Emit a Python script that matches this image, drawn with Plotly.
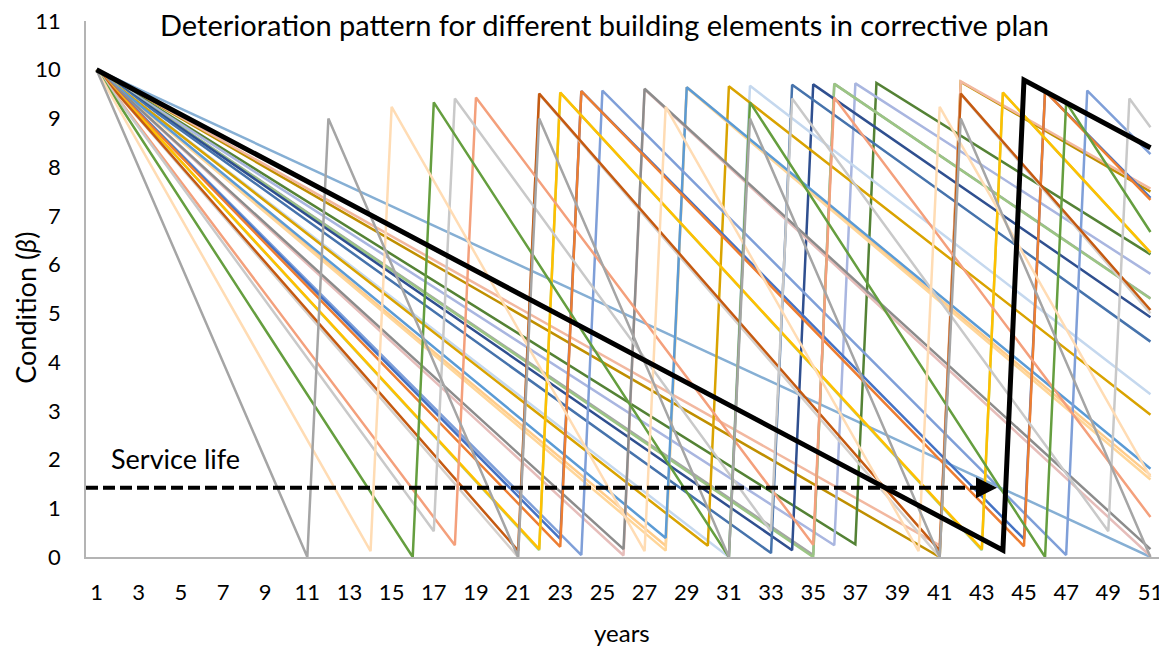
import plotly.graph_objects as go

# ---------------- data (vertices) ----------------
tick_years = list(range(1, 52, 2))
y_ticks = list(range(0, 12))

service_life_level = 1.42
service_life_end = 43.72

s01_x = [1, 11, 12, 21, 22, 31, 32, 41, 42, 51]
s01_y = [10, 0, 9, 0, 9, 0, 9, 0, 9, 0]
s02_x = [1, 14, 15, 27, 28, 40, 41, 51]
s02_y = [10, 0.12, 9.24, 0.12, 9.24, 0.12, 9.24, 1.64]
s03_x = [1, 16, 17, 31, 32, 46, 47, 51]
s03_y = [10, 0, 9.33, 0, 9.33, 0, 9.33, 6.67]
s04_x = [1, 17, 18, 33, 34, 49, 50, 51]
s04_y = [10, 0.53, 9.41, 0.53, 9.41, 0.53, 9.41, 8.82]
s05_x = [1, 18, 19, 35, 36, 51]
s05_y = [10, 0.24, 9.43, 0.25, 9.43, 0.82]
s06_x = [1, 21, 22, 41, 42, 51]
s06_y = [10, 0.13, 9.51, 0.13, 9.51, 5.07]
s07_x = [1, 21, 22, 41, 42, 51]
s07_y = [10, 0, 9.5, 0, 9.5, 5.0]
s08_x = [1, 22, 23, 43, 44, 51]
s08_y = [10, 0.16, 9.53, 0.16, 9.53, 6.25]
s09_x = [1, 22, 23, 43, 44, 51]
s09_y = [10, 0.14, 9.53, 0.14, 9.53, 6.24]
s10_x = [1, 23, 24, 45, 46, 51]
s10_y = [10, 0.21, 9.56, 0.22, 9.56, 7.33]
s11_x = [1, 23, 24, 45, 46, 51]
s11_y = [10, 0.37, 9.56, 0.37, 9.56, 7.37]
s12_x = [1, 24, 25, 47, 48, 51]
s12_y = [10, 0.04, 9.57, 0.04, 9.57, 8.27]
s13_x = [1, 26, 27, 51]
s13_y = [10, 0.16, 9.61, 0.16]
s14_x = [1, 26, 27, 51]
s14_y = [10, 0.03, 9.6, 0.02]
s15_x = [1, 28, 29, 51]
s15_y = [10, 0.39, 9.64, 1.81]
s16_x = [1, 28, 29, 51]
s16_y = [10, 0.13, 9.63, 1.59]
s17_x = [1, 28, 29, 51]
s17_y = [10, 0.23, 9.64, 1.68]
s18_x = [1, 30, 31, 51]
s18_y = [10, 0.23, 9.66, 2.92]
s19_x = [1, 31, 32, 51]
s19_y = [10, 0, 9.67, 3.34]
s20_x = [1, 33, 34, 51]
s20_y = [10, 0.08, 9.69, 4.42]
s21_x = [1, 34, 35, 51]
s21_y = [10, 0.14, 9.70, 4.92]
s22_x = [1, 35, 36, 51]
s22_y = [10, 0, 9.71, 5.30]
s23_x = [1, 35, 36, 51]
s23_y = [10, 0.04, 9.71, 5.31]
s24_x = [1, 36, 37, 51]
s24_y = [10, 0.24, 9.72, 5.81]
s25_x = [1, 37, 38, 51]
s25_y = [10, 0.26, 9.73, 6.21]
s26_x = [1, 41, 42, 51]
s26_y = [10, 0.24, 9.76, 7.56]
s27_x = [1, 41, 42, 51]
s27_y = [10, 0, 9.75, 7.5]
s28_x = [1, 51]
s28_y = [10, 0]
s29_x = [1, 44, 45, 51]
s29_y = [10, 0.14, 9.79, 8.4]

series = [
    ("s28", "#86AFD4", 2.5, s28_x, s28_y),
    ("s27", "#BF8F00", 2.5, s27_x, s27_y),
    ("s26", "#F2B8A0", 2.5, s26_x, s26_y),
    ("s25", "#548235", 2.5, s25_x, s25_y),
    ("s24", "#A9B6E0", 2.5, s24_x, s24_y),
    ("s23", "#A5A5A5", 2.5, s23_x, s23_y),
    ("s22", "#9BC584", 2.5, s22_x, s22_y),
    ("s21", "#2F4F8F", 2.5, s21_x, s21_y),
    ("s20", "#4673AC", 2.5, s20_x, s20_y),
    ("s19", "#C5D8EE", 2.5, s19_x, s19_y),
    ("s18", "#D9A300", 2.5, s18_x, s18_y),
    ("s17", "#FFCC8A", 2.5, s17_x, s17_y),
    ("s16", "#FFD699", 2.5, s16_x, s16_y),
    ("s15", "#5B9BD5", 2.5, s15_x, s15_y),
    ("s14", "#E6BDBA", 2.5, s14_x, s14_y),
    ("s13", "#8C8C8C", 2.5, s13_x, s13_y),
    ("s12", "#7F9FD8", 2.5, s12_x, s12_y),
    ("s11", "#4472C4", 2.5, s11_x, s11_y),
    ("s10", "#ED7D31", 2.5, s10_x, s10_y),
    ("s09", "#A9D18E", 2.5, s09_x, s09_y),
    ("s08", "#FFC000", 2.5, s08_x, s08_y),
    ("s07", "#D5D0CC", 2.5, s07_x, s07_y),
    ("s06", "#C55A11", 2.5, s06_x, s06_y),
    ("s05", "#F4A07C", 2.5, s05_x, s05_y),
    ("s04", "#C9C9C9", 2.5, s04_x, s04_y),
    ("s03", "#659E3F", 2.5, s03_x, s03_y),
    ("s02", "#FFDCB4", 2.5, s02_x, s02_y),
    ("s01", "#A5A5A5", 2.5, s01_x, s01_y),
    ("s29", "#000000", 5, s29_x, s29_y),
]

FONT = "Lato"

fig = go.Figure()
for name, color, width, xs, ys in series:
    fig.add_trace(go.Scatter(
        x=xs, y=ys, mode="lines", name=name, showlegend=False,
        line=dict(color=color, width=width), hoverinfo="skip",
    ))

# the page adds an 8px body margin, so the figure is sized/offset to compensate
fig.update_layout(
    width=1159, height=640,
    margin=dict(l=78, r=6, t=13, b=91, autoexpand=False),
    paper_bgcolor="white", plot_bgcolor="white",
    font=dict(family=FONT, color="#000000"),
    showlegend=False,
)

fig.update_xaxes(
    range=[0.5, 51.5], tickmode="array", tickvals=tick_years,
    ticktext=[str(v) for v in tick_years], automargin=False,
    showgrid=False, zeroline=False, showline=True, linecolor="#B4B4B4", linewidth=1.5,
    ticks="", tickfont=dict(family=FONT, size=22, color="#000000"),
    ticklabelstandoff=15, ticklabeloverflow="allow",
)
fig.update_yaxes(
    range=[0, 11], tickmode="array", tickvals=y_ticks, automargin=False,
    showgrid=False, zeroline=False, showline=True, linecolor="#B4B4B4", linewidth=1.5,
    ticks="", tickfont=dict(family=FONT, size=22, color="#000000"),
    ticklabelstandoff=19, ticklabeloverflow="allow",
)

# service-life dashed line with arrow
fig.add_shape(type="line", xref="x", yref="y", x0=0.5, x1=service_life_end - 0.5,
              y0=service_life_level, y1=service_life_level,
              line=dict(color="#000000", width=4, dash="12px,5px"), layer="above")
fig.add_annotation(x=service_life_end, y=service_life_level, ax=service_life_end - 0.7,
                   ay=service_life_level, xref="x", yref="y", axref="x", ayref="y",
                   text="", showarrow=True, arrowhead=2, arrowsize=1.4, arrowwidth=3,
                   arrowcolor="#000000")
fig.add_annotation(x=4.73, y=2.02, xref="x", yref="y", text="Service life",
                   showarrow=False, font=dict(family=FONT, size=27, color="#000000"))

# titles
fig.add_annotation(x=0.482, y=0.994, xref="paper", yref="paper", yanchor="middle",
                   text="Deterioration pattern for different building elements in corrective plan",
                   showarrow=False, font=dict(family=FONT, size=29, color="#000000"))
fig.add_annotation(x=0.499, y=-0.140, xref="paper", yref="paper", yanchor="middle",
                   text="years", showarrow=False,
                   font=dict(family=FONT, size=24, color="#000000"))
fig.add_annotation(x=-0.0565, y=0.4655, xref="paper", yref="paper", textangle=-90,
                   xanchor="center", yanchor="middle",
                   text="Condition (<i>β</i>)", showarrow=False,
                   font=dict(family=FONT, size=27, color="#000000"))

fig.write_html("out.html")
